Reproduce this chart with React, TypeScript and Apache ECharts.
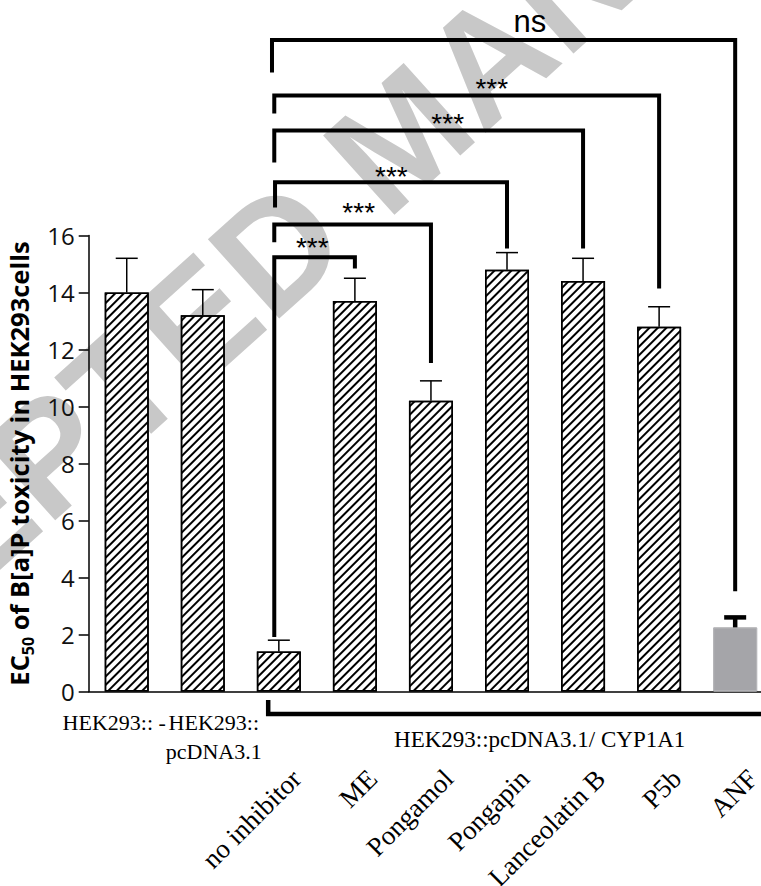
import React, { useEffect, useRef } from 'react';
import * as echarts from 'echarts';

// ---- data ----
const categories = ['HEK293:: -', 'HEK293::pcDNA3.1', 'no inhibitor', 'ME', 'Pongamol', 'Pongapin', 'Lanceolatin B', 'P5b', 'ANF'];
const meanValues = [14.0, 13.2, 1.4, 13.7, 10.2, 14.8, 14.4, 12.8, 2.25];
const errorValues = [1.2, 0.9, 0.4, 0.8, 0.7, 0.6, 0.8, 0.7, 0.35];
const yMin = 0;
const yMax = 16;
const yInterval = 2;

// significance brackets (x in category units, y in axis units)
const bracketLabels = ['***', '***', '***', '***', '***', 'ns'];
const bracketLeftX = [1.94, 1.94, 1.95, 1.94, 1.94, 1.91];
const bracketRightX = [3, 4, 5, 6, 7, 8];
const bracketTopY = [15.24, 16.39, 17.87, 19.68, 20.91, 22.86];
const bracketLeftEndY = [1.91, 15.76, 16.98, 18.56, 20.28, 21.72];
const bracketRightEndY = [14.84, 11.53, 15.54, 15.54, 14.14, 3.52];
const bracketLabelX = [2.44, 3.05, 3.48, 4.22, 4.8, 5.3];
const bracketLabelY = [15.58, 16.81, 18.07, 19.93, 21.16, 23.52];

// group bracket under the axis
const groupLabel = 'HEK293::pcDNA3.1/ CYP1A1';
const groupBracketX = [1.86, 8.9];
const groupBracketY = [-0.3, -0.79];
const groupLabelPos = [5.43, -1.7];

const SERIF = '"Liberation Serif", "Times New Roman", serif';
const SANS = '"Liberation Sans", Arial, sans-serif';
const CAL = '"Open Sans", "Noto Sans", sans-serif';

export default function App() {
  const ref = useRef<HTMLDivElement>(null);
  useEffect(() => {
    if (!ref.current) return;
    const chart = echarts.init(ref.current, null, { renderer: 'svg' });
    const option: any = {
      animation: false,
      backgroundColor: '#fff',
      grid: { left: 88.7, top: 235.5, width: 684.5, height: 456, containLabel: false, outerBoundsMode: 'none' },
      graphic: [
        {
          type: 'text',
          x: 402,
          y: 136,
          rotation: (42 * Math.PI) / 180,
          z: -10,
          silent: true,
          style: {
            text: 'ACCEPTED MANUSCRIPT',
            font: 'bold 155px "Liberation Sans", Arial, sans-serif',
            fill: '#c8c8c8',
            align: 'center',
            verticalAlign: 'middle',
          },
        },
      ],
      xAxis: [
        {
          type: 'category',
          data: categories,
          position: 'bottom',
          axisLine: { onZero: false, lineStyle: { color: '#000', width: 1.5 } },
          axisTick: { alignWithLabel: true, length: 9, lineStyle: { color: '#000', width: 1.5 } },
          splitLine: { show: false },
          axisLabel: {
            interval: 0,
            rotate: 45,
            margin: 65,
            align: 'right',
            verticalAlign: 'top',
            lineHeight: 50,
            fontFamily: SERIF,
            fontSize: 27,
            color: '#000',
            formatter: (v: string, idx: number) => (idx < 2 ? '' : v),
          },
        },
        {
          type: 'category',
          data: categories,
          position: 'bottom',
          axisLine: { show: false, onZero: false },
          axisTick: { show: false },
          splitLine: { show: false },
          axisLabel: {
            interval: 0,
            margin: 16,
            color: '#000',
            formatter: (v: string, idx: number) => {
              if (idx === 0) return '{a|' + v + '}';
              if (idx === 1) {
                const parts = v.split('::');
                return '{b|' + parts[0] + '::}\n{b|' + parts[1] + '}';
              }
              return '';
            },
            rich: {
              a: { fontFamily: SERIF, fontSize: 22, color: '#000', lineHeight: 29, padding: [0, 25, 0, 0] },
              b: { fontFamily: SERIF, fontSize: 22, color: '#000', lineHeight: 29, padding: [0, 0, 0, 22] },
            },
          },
        },
        { type: 'value', min: -0.5, max: 8.5, show: false },
      ],
      yAxis: {
        type: 'value',
        min: yMin,
        max: yMax,
        interval: yInterval,
        splitLine: { show: false },
        axisLine: { show: true, onZero: false, lineStyle: { color: '#000', width: 1.5 } },
        axisTick: { show: true, length: 10, lineStyle: { color: '#000', width: 1.5 } },
        axisLabel: { fontFamily: CAL, fontSize: 24, color: '#111', margin: 14 },
        name: '{b|EC}{s|50}{b| of B[a]P toxicity in HEK293cells}',
        nameLocation: 'middle',
        nameRotate: 90,
        nameGap: 49,
        nameTextStyle: {
          rich: {
            b: { fontFamily: CAL, fontWeight: 'bold', fontSize: 25.5, color: '#000', lineHeight: 34, verticalAlign: 'middle' },
            s: { fontFamily: CAL, fontWeight: 'bold', fontSize: 16, color: '#000', lineHeight: 21, verticalAlign: 'bottom' },
          },
        },
      },
      series: [
        {
          type: 'bar',
          xAxisIndex: 0,
          yAxisIndex: 0,
          barWidth: 44,
          z: 2,
          data: meanValues.map((v, i) =>
            i === 8
              ? { value: v, itemStyle: { color: '#a5a5a9', borderColor: '#b5b5b8', borderWidth: 1, decal: { symbol: 'none' } } }
              : v
          ),
          itemStyle: {
            color: '#fff',
            borderColor: '#000',
            borderWidth: 1.5,
            decal: {
              symbol: 'rect',
              symbolSize: 1,
              color: '#000',
              dashArrayX: [1, 0],
              dashArrayY: [1.4, 3.6],
              rotation: -Math.PI / 4,
            },
          },
        },
        {
          type: 'custom',
          xAxisIndex: 0,
          yAxisIndex: 0,
          z: 3,
          data: meanValues.map((v, i) => [i, v, v + errorValues[i]]),
          renderItem: (params: any, api: any) => {
            const i = params.dataIndex;
            const base = api.coord([api.value(0), api.value(1)]);
            const top = api.coord([api.value(0), api.value(2)]);
            const thick = i === 8;
            const lw = thick ? 4.5 : 1.5;
            const half = 11;
            return {
              type: 'group',
              children: [
                { type: 'line', shape: { x1: base[0], y1: base[1], x2: top[0], y2: top[1] }, style: { stroke: '#000', lineWidth: lw } },
                { type: 'line', shape: { x1: top[0] - half, y1: top[1], x2: top[0] + half, y2: top[1] }, style: { stroke: '#000', lineWidth: lw } },
              ],
            };
          },
        },
        {
          type: 'custom',
          xAxisIndex: 2,
          yAxisIndex: 0,
          z: 5,
          clip: false,
          data: bracketLabels.map((_, i) => [bracketLeftX[i], bracketTopY[i]]),
          renderItem: (params: any, api: any) => {
            const i = params.dataIndex;
            const p1 = api.coord([bracketLeftX[i], bracketLeftEndY[i]]);
            const p2 = api.coord([bracketLeftX[i], bracketTopY[i]]);
            const p3 = api.coord([bracketRightX[i], bracketTopY[i]]);
            const p4 = api.coord([bracketRightX[i], bracketRightEndY[i]]);
            const pl = api.coord([bracketLabelX[i], bracketLabelY[i]]);
            const isNs = bracketLabels[i] === 'ns';
            return {
              type: 'group',
              children: [
                {
                  type: 'polyline',
                  shape: { points: [p1, p2, p3, p4] },
                  style: { stroke: '#000', lineWidth: 4, fill: null, lineJoin: 'miter', lineCap: 'butt' },
                },
                {
                  type: 'text',
                  x: pl[0],
                  y: pl[1],
                  style: {
                    text: bracketLabels[i],
                    fontFamily: SANS,
                    fontSize: isNs ? 31 : 28,
                    fill: '#000',
                    align: 'center',
                    verticalAlign: 'middle',
                  },
                },
              ],
            };
          },
        },
        {
          type: 'custom',
          xAxisIndex: 2,
          yAxisIndex: 0,
          z: 5,
          clip: false,
          data: [[groupBracketX[0], groupBracketY[0]]],
          renderItem: (params: any, api: any) => {
            const a = api.coord([groupBracketX[0], groupBracketY[0]]);
            const b = api.coord([groupBracketX[0], groupBracketY[1]]);
            const c = api.coord([groupBracketX[1], groupBracketY[1]]);
            const t = api.coord(groupLabelPos);
            return {
              type: 'group',
              children: [
                { type: 'polyline', shape: { points: [a, b, c] }, style: { stroke: '#000', lineWidth: 4.5, fill: null, lineJoin: 'miter' } },
                {
                  type: 'text',
                  x: t[0],
                  y: t[1],
                  style: { text: groupLabel, fontFamily: SERIF, fontSize: 23, fill: '#000', align: 'center', verticalAlign: 'middle' },
                },
              ],
            };
          },
        },
      ],
    };
    chart.setOption(option);
    return () => chart.dispose();
  }, []);
  return <div ref={ref} style={{ position: 'fixed', left: 0, top: 0, width: 761, height: 886, background: '#fff' }} />;
}
